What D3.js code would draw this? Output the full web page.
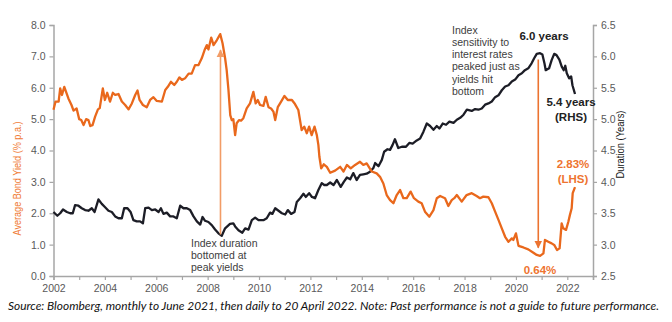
<!DOCTYPE html>
<html>
<head>
<meta charset="utf-8">
<script src="https://cdn.jsdelivr.net/npm/d3@7"></script>
<style>
  body { margin: 0; background: #fff; }
  svg { display: block; font-family: "Liberation Sans", Arial, sans-serif; }
</style>
</head>
<body>
<div id="chart"></div>
<script>
// Average bond yield (% p.a.), left axis: [decimal year, value]
const yieldSeries = [
  [2002.00, 5.30], [2002.08, 5.56], [2002.20, 5.56], [2002.26, 5.98], [2002.33, 5.77],
  [2002.42, 6.03], [2002.58, 5.66], [2002.70, 5.45], [2002.78, 5.27], [2002.90, 5.34],
  [2003.00, 5.00], [2003.08, 4.97], [2003.17, 4.81], [2003.27, 5.00], [2003.36, 4.97],
  [2003.43, 4.78], [2003.52, 4.81], [2003.62, 5.08], [2003.73, 5.31], [2003.80, 5.35],
  [2003.88, 5.77], [2003.92, 5.98], [2004.00, 5.61], [2004.09, 5.84], [2004.20, 5.56],
  [2004.31, 5.84], [2004.40, 5.77], [2004.53, 5.80], [2004.66, 5.56], [2004.79, 5.45],
  [2004.92, 5.31], [2005.05, 5.50], [2005.18, 5.77], [2005.27, 5.91], [2005.35, 5.61],
  [2005.48, 5.45], [2005.63, 5.38], [2005.76, 5.61], [2005.89, 5.70], [2006.02, 5.58],
  [2006.22, 5.56], [2006.35, 5.93], [2006.45, 6.03], [2006.57, 6.19], [2006.70, 6.09],
  [2006.80, 6.19], [2006.90, 6.33], [2007.00, 6.25], [2007.12, 6.30], [2007.26, 6.45],
  [2007.38, 6.45], [2007.51, 6.72], [2007.64, 6.72], [2007.77, 6.94], [2007.88, 7.20],
  [2007.97, 7.36], [2008.03, 7.22], [2008.14, 7.60], [2008.23, 7.36], [2008.36, 7.52],
  [2008.49, 7.71], [2008.58, 7.42], [2008.68, 6.94], [2008.74, 6.57], [2008.81, 5.93],
  [2008.88, 5.13], [2008.94, 4.97], [2009.00, 5.00], [2009.07, 4.49], [2009.13, 4.87],
  [2009.22, 4.97], [2009.30, 4.95], [2009.39, 5.03], [2009.52, 5.34], [2009.65, 5.50],
  [2009.78, 5.87], [2009.87, 5.50], [2009.95, 5.61], [2010.04, 5.45], [2010.17, 5.42],
  [2010.26, 5.71], [2010.37, 5.38], [2010.47, 5.34], [2010.56, 5.24], [2010.63, 4.97],
  [2010.73, 5.38], [2010.86, 5.56], [2010.99, 5.74], [2011.12, 5.61], [2011.28, 5.61],
  [2011.40, 5.48], [2011.53, 5.29], [2011.66, 4.65], [2011.76, 4.76], [2011.86, 4.55],
  [2011.95, 4.76], [2012.05, 4.49], [2012.16, 4.76], [2012.25, 4.49], [2012.31, 4.18],
  [2012.35, 3.80], [2012.42, 3.43], [2012.52, 3.56], [2012.64, 3.48], [2012.77, 3.29],
  [2012.96, 3.36], [2013.16, 3.48], [2013.29, 3.33], [2013.42, 3.54], [2013.57, 3.43],
  [2013.74, 3.54], [2013.93, 3.64], [2014.06, 3.54], [2014.19, 3.59], [2014.39, 3.33],
  [2014.58, 3.27], [2014.71, 3.16], [2014.84, 2.95], [2014.97, 2.58], [2015.10, 2.42],
  [2015.23, 2.32], [2015.36, 2.58], [2015.49, 2.74], [2015.62, 2.48], [2015.75, 2.48],
  [2015.90, 2.69], [2016.03, 2.48], [2016.20, 2.37], [2016.33, 2.32], [2016.46, 2.05],
  [2016.63, 1.89], [2016.79, 2.10], [2016.92, 2.48], [2017.05, 2.55], [2017.24, 2.48],
  [2017.37, 2.23], [2017.50, 2.42], [2017.60, 2.48], [2017.70, 2.58], [2017.89, 2.37],
  [2018.08, 2.58], [2018.28, 2.64], [2018.47, 2.55], [2018.60, 2.48], [2018.73, 2.53],
  [2018.93, 2.51], [2019.06, 2.32], [2019.19, 2.05], [2019.32, 1.79], [2019.45, 1.52],
  [2019.58, 1.25], [2019.71, 1.09], [2019.84, 1.20], [2019.90, 1.15], [2020.00, 1.36],
  [2020.10, 0.96], [2020.29, 0.91], [2020.48, 0.85], [2020.68, 0.74], [2020.81, 0.67],
  [2020.94, 0.64], [2021.07, 0.72], [2021.13, 1.15], [2021.26, 1.09], [2021.39, 1.04],
  [2021.49, 0.99], [2021.60, 0.83], [2021.70, 0.88], [2021.78, 1.68], [2021.84, 1.52],
  [2021.95, 1.47], [2022.04, 1.73], [2022.10, 1.94], [2022.17, 2.16], [2022.21, 2.64],
  [2022.30, 2.83]
];

// Index duration (years), right axis: [decimal year, value]
const durationSeries = [
  [2002.00, 3.52], [2002.15, 3.46], [2002.26, 3.50], [2002.37, 3.56], [2002.52, 3.52],
  [2002.65, 3.50], [2002.75, 3.50], [2002.84, 3.63], [2002.97, 3.62], [2003.10, 3.58],
  [2003.23, 3.55], [2003.36, 3.54], [2003.49, 3.58], [2003.60, 3.52], [2003.75, 3.72],
  [2003.88, 3.65], [2004.00, 3.60], [2004.14, 3.54], [2004.27, 3.52], [2004.40, 3.45],
  [2004.53, 3.42], [2004.66, 3.42], [2004.75, 3.58], [2004.88, 3.58], [2005.00, 3.52],
  [2005.11, 3.39], [2005.24, 3.37], [2005.37, 3.37], [2005.48, 3.34], [2005.57, 3.58],
  [2005.70, 3.59], [2005.83, 3.55], [2005.96, 3.56], [2006.09, 3.52], [2006.18, 3.58],
  [2006.28, 3.49], [2006.41, 3.51], [2006.54, 3.45], [2006.67, 3.45], [2006.80, 3.42],
  [2006.93, 3.62], [2007.06, 3.58], [2007.19, 3.58], [2007.32, 3.55], [2007.45, 3.45],
  [2007.58, 3.37], [2007.71, 3.32], [2007.80, 3.44], [2007.90, 3.38], [2008.03, 3.36],
  [2008.16, 3.31], [2008.29, 3.24], [2008.42, 3.18], [2008.55, 3.14], [2008.68, 3.26],
  [2008.87, 3.33], [2009.00, 3.34], [2009.07, 3.29], [2009.20, 3.23], [2009.35, 3.19],
  [2009.46, 3.26], [2009.59, 3.24], [2009.72, 3.39], [2009.85, 3.43], [2009.98, 3.39],
  [2010.17, 3.39], [2010.30, 3.42], [2010.43, 3.51], [2010.52, 3.49], [2010.63, 3.58],
  [2010.76, 3.54], [2010.89, 3.50], [2011.02, 3.48], [2011.12, 3.55], [2011.25, 3.49],
  [2011.38, 3.52], [2011.47, 3.68], [2011.60, 3.74], [2011.73, 3.81], [2011.82, 3.76],
  [2011.95, 3.82], [2012.06, 3.76], [2012.18, 3.74], [2012.31, 3.87], [2012.44, 3.98],
  [2012.54, 3.95], [2012.64, 3.95], [2012.77, 3.99], [2012.90, 3.95], [2013.03, 4.03],
  [2013.18, 3.92], [2013.30, 4.00], [2013.42, 4.07], [2013.55, 4.04], [2013.67, 4.14],
  [2013.80, 4.03], [2013.93, 4.11], [2014.06, 4.12], [2014.19, 4.13], [2014.32, 4.16],
  [2014.45, 4.22], [2014.52, 4.30], [2014.65, 4.25], [2014.78, 4.35], [2014.87, 4.48],
  [2015.00, 4.52], [2015.10, 4.51], [2015.20, 4.59], [2015.29, 4.68], [2015.42, 4.54],
  [2015.56, 4.56], [2015.72, 4.56], [2015.85, 4.62], [2015.98, 4.61], [2016.14, 4.66],
  [2016.27, 4.69], [2016.40, 4.80], [2016.53, 4.93], [2016.66, 4.89], [2016.79, 4.83],
  [2016.92, 4.89], [2017.02, 4.85], [2017.15, 4.93], [2017.28, 4.91], [2017.41, 4.96],
  [2017.57, 4.94], [2017.70, 4.99], [2017.83, 5.02], [2017.96, 5.07], [2018.09, 5.15],
  [2018.28, 5.13], [2018.41, 5.16], [2018.54, 5.15], [2018.67, 5.17], [2018.80, 5.23],
  [2018.93, 5.25], [2019.06, 5.28], [2019.19, 5.35], [2019.32, 5.38], [2019.45, 5.46],
  [2019.58, 5.52], [2019.71, 5.54], [2019.84, 5.60], [2019.97, 5.63], [2020.10, 5.70],
  [2020.23, 5.73], [2020.35, 5.78], [2020.48, 5.81], [2020.61, 5.89], [2020.71, 5.97],
  [2020.81, 6.04], [2020.94, 6.05], [2021.03, 6.03], [2021.11, 5.89], [2021.16, 5.78],
  [2021.29, 5.81], [2021.39, 5.94], [2021.49, 6.04], [2021.58, 6.02], [2021.69, 5.95],
  [2021.79, 5.83], [2021.86, 5.78], [2021.92, 5.85], [2021.98, 5.73], [2022.07, 5.65],
  [2022.15, 5.68], [2022.20, 5.54], [2022.30, 5.40]
];

const yearTicks = d3.range(2002, 2024);           // a tick each year
const yearLabels = d3.range(2002, 2023, 2);       // labelled every second year
const yieldTicks = d3.range(0, 8.01, 1);
const durationTicks = d3.range(2.5, 6.51, 0.5);

const sourceNote = "Source: Bloomberg, monthly to June 2021, then daily to 20 April 2022. Note: Past performance is not a guide to future performance.";

const width = 672, height = 322;
const margin = { top: 25, right: 79, bottom: 46, left: 53.5 };

const orange = "#e9681c";
const navy = "#1c1d26";
const axisGrey = "#a6a6a6";
const labelGrey = "#595959";

const svg = d3.select("#chart").append("svg")
  .attr("width", width)
  .attr("height", height);

const x = d3.scaleLinear().domain([2002, 2023]).range([margin.left, width - margin.right]);
const yL = d3.scaleLinear().domain([0, 8]).range([height - margin.bottom, margin.top]);
const yR = d3.scaleLinear().domain([2.5, 6.5]).range([height - margin.bottom, margin.top]);

// axes
const xAxis = svg.append("g")
  .attr("transform", `translate(0,${yL(0)})`)
  .call(d3.axisBottom(x).tickValues(yearTicks).tickSize(4).tickPadding(5)
    .tickFormat(d => yearLabels.includes(d) ? d : ""));

const leftAxis = svg.append("g")
  .attr("transform", `translate(${x(2002)},0)`)
  .call(d3.axisLeft(yL).tickValues(yieldTicks).tickSize(4).tickPadding(4).tickFormat(d3.format(".1f")));

const rightAxis = svg.append("g")
  .attr("transform", `translate(${x(2023)},0)`)
  .call(d3.axisRight(yR).tickValues(durationTicks).tickSize(4).tickPadding(4).tickFormat(d3.format(".1f")));

[xAxis, leftAxis, rightAxis].forEach(g => {
  g.select(".domain").attr("stroke", axisGrey).attr("stroke-width", 1.5);
  g.selectAll(".tick line").attr("stroke", axisGrey).attr("stroke-width", 1.2);
  g.selectAll(".tick text").attr("fill", labelGrey).style("font-size", "10.5px")
    .style("font-family", "'Liberation Sans', Arial, sans-serif");
});

// axis titles
svg.append("text")
  .attr("transform", `translate(21,${(yL(0) + yL(8)) / 2 + 28}) rotate(-90)`)
  .attr("text-anchor", "middle")
  .attr("fill", "#f07b35")
  .style("font-size", "10.5px")
  .attr("textLength", 114)
  .attr("lengthAdjust", "spacingAndGlyphs")
  .text("Average Bond Yield (% p.a.)");

svg.append("text")
  .attr("transform", `translate(624,${(yR(2.5) + yR(6.5)) / 2 - 6}) rotate(-90)`)
  .attr("text-anchor", "middle")
  .attr("fill", "#111")
  .style("font-size", "10.5px")
  .attr("textLength", 68)
  .attr("lengthAdjust", "spacingAndGlyphs")
  .text("Duration (Years)");

// series
svg.append("path")
  .datum(durationSeries)
  .attr("fill", "none")
  .attr("stroke", navy)
  .attr("stroke-width", 2.3)
  .attr("stroke-linejoin", "round")
  .attr("d", d3.line().x(d => x(d[0])).y(d => yR(d[1])));

svg.append("path")
  .datum(yieldSeries)
  .attr("fill", "none")
  .attr("stroke", orange)
  .attr("stroke-width", 2.3)
  .attr("stroke-linejoin", "round")
  .attr("d", d3.line().x(d => x(d[0])).y(d => yL(d[1])));

// arrows
const defs = svg.append("defs");
function arrowHead(id, colour) {
  defs.append("marker")
    .attr("id", id)
    .attr("viewBox", "0 0 10 10")
    .attr("refX", 9).attr("refY", 5)
    .attr("markerWidth", 5).attr("markerHeight", 5)
    .attr("orient", "auto")
    .append("path")
    .attr("d", "M0,0 L10,5 L0,10 z")
    .attr("fill", colour);
}
arrowHead("headLight", "#f29c66");
arrowHead("headDark", "#ec7330");

const peakYield = yieldSeries.reduce((a, b) => b[1] > a[1] ? b : a);
const lowYield = yieldSeries.reduce((a, b) => b[1] < a[1] ? b : a);
const peakDur = durationSeries.reduce((a, b) => b[1] > a[1] ? b : a);
const lastYield = yieldSeries[yieldSeries.length - 1];
const lastDur = durationSeries[durationSeries.length - 1];

const leftArrowX = x(2008.5);
svg.append("line")
  .attr("x1", leftArrowX).attr("x2", leftArrowX)
  .attr("y1", yR(3.16)).attr("y2", yL(7.2))
  .attr("stroke", "#f29c66").attr("stroke-width", 1.6)
  .attr("marker-end", "url(#headLight)");

const rightArrowX = x(2020.87);
svg.append("line")
  .attr("x1", rightArrowX).attr("x2", rightArrowX)
  .attr("y1", yR(5.95)).attr("y2", yL(0.9))
  .attr("stroke", "#ec7330").attr("stroke-width", 1.6)
  .attr("marker-end", "url(#headDark)");

// annotations
function textBlock(lines, tx, ty, lh) {
  const t = svg.append("text")
    .attr("fill", "#404040")
    .style("font-size", "10.5px");
  lines.forEach((s, i) => t.append("tspan").attr("x", tx).attr("y", ty + i * lh).text(s));
}
textBlock(["Index duration", "bottomed at", "peak yields"], 191, 246.5, 12);
textBlock(["Index", "sensitivity to", "interest rates", "peaked just as", "yields hit", "bottom"], 452, 33.5, 12.3);

function valueLabel(lines, tx, ty, colour) {
  const t = svg.append("text")
    .attr("fill", colour)
    .attr("text-anchor", "middle")
    .style("font-size", "11.5px")
    .style("font-weight", "bold");
  lines.forEach((s, i) => t.append("tspan").attr("x", tx).attr("y", ty + i * 14.5).text(s));
}
valueLabel([`${peakDur[1].toFixed(1)} years`], 544, 40, "#222");
valueLabel([`${lastDur[1].toFixed(1)} years`, "(RHS)"], x(lastDur[0]) - 4, 106, "#222");
valueLabel([`${lastYield[1].toFixed(2)}%`, "(LHS)"], x(lastYield[0]) - 2, 168, "#ee7430");
valueLabel([`${lowYield[1].toFixed(2)}%`], 540, 274, "#ee7430");

// footnote
svg.append("text")
  .attr("x", 8)
  .attr("y", 310)
  .attr("fill", "#111")
  .style("font-family", "Lato, 'Open Sans', sans-serif")
  .style("font-style", "italic")
  .style("font-size", "11.5px")
  .attr("textLength", 651)
  .attr("lengthAdjust", "spacingAndGlyphs")
  .text(sourceNote);
</script>
</body>
</html>
